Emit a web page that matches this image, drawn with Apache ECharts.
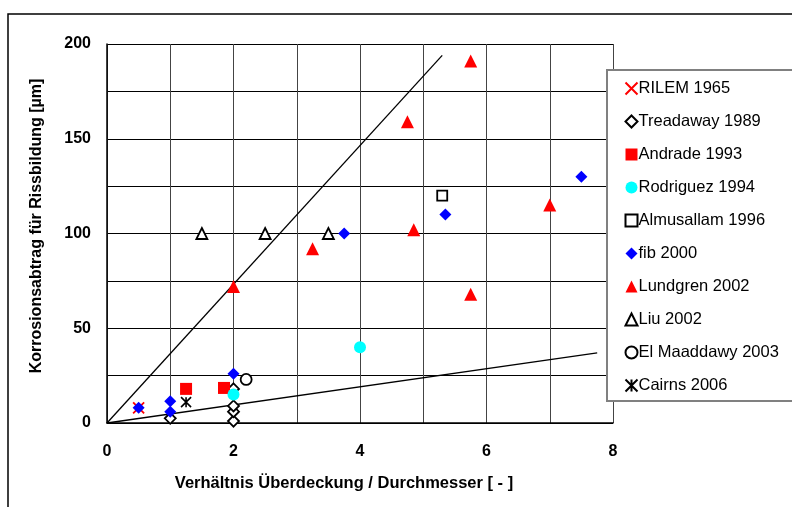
<!DOCTYPE html>
<html><head><meta charset="utf-8">
<script src="https://cdn.jsdelivr.net/npm/echarts@6/dist/echarts.min.js"></script>
<style>html,body{margin:0;padding:0;background:#fff}#c{width:792px;height:507px}</style>
</head><body><div id="c"></div>
<script>
const rilem = [[0.5, 8]];
const treadaway = [[1, 2.5], [2, 1], [2, 6], [2, 9], [2, 18]];
const andrade = [[1.25, 18], [1.85, 18.5]];
const rodriguez = [[2, 15], [4, 40]];
const almusallam = [[5.3, 120]];
const fib = [[0.5, 8], [1, 6], [1, 11.5], [2, 26], [3.75, 100], [5.35, 110], [7.5, 130]];
const lundgren = [[2, 72], [3.25, 92], [4.75, 159], [5.75, 191], [4.85, 102], [5.75, 68], [7, 115]];
const liu = [[1.5, 100], [2.5, 100], [3.5, 100]];
const elMaaddawy = [[2.2, 23]];
const cairns = [[1.25, 11]];
const upperLine = [[0, 0], [5.3, 194]];
const lowerLine = [[0, 0], [7.75, 37]];
const xTicks = [0, 2, 4, 6, 8];
const yTicks = [0, 50, 100, 150, 200];

const chart = echarts.init(document.getElementById('c'));
const font = 'Liberation Sans, Arial, sans-serif';
function sc(name, data, symbol, size, color, border, bw) {
  return {
    name, type: 'scatter', data, symbol, symbolSize: size,
    itemStyle: { color, borderColor: border || color, borderWidth: bw || 0, opacity: 1 },
    emphasis: { disabled: true }, z: 3
  };
}
const xPath = 'path://M0,0L10,10M10,0L0,10';
const starPath = 'path://M0,0L10,10M10,0L0,10M5,0L5,10';
chart.setOption({
  animation: false,
  backgroundColor: '#fff',
  grid: { left: 107, top: 44, right: 179, bottom: 84 },
  xAxis: {
    type: 'value', min: 0, max: 8, interval: 1,
    axisLine: { lineStyle: { color: '#000', width: 1.5 } },
    axisTick: { show: false },
    splitLine: { show: true, lineStyle: { color: '#444', width: 1 } },
    axisLabel: {
      margin: 21, color: '#000', fontFamily: font, fontWeight: 'bold', fontSize: 16,
      formatter: v => xTicks.includes(v) ? String(v) : ''
    }
  },
  yAxis: {
    type: 'value', min: 0, max: 200, interval: 25,
    axisLine: { show: true, lineStyle: { color: '#000', width: 1.5 } },
    axisTick: { show: false },
    splitLine: { show: true, lineStyle: { color: '#000', width: 1 } },
    axisLabel: {
      margin: 16, color: '#000', fontFamily: font, fontWeight: 'bold', fontSize: 16,
      formatter: v => yTicks.includes(v) ? String(v) : ''
    }
  },
  legend: {
    orient: 'vertical', left: 607, top: 70, width: 190,
    padding: [10, 100, 7, 16],
    backgroundColor: '#fff', borderColor: '#808080', borderWidth: 2, borderRadius: 0,
    itemWidth: 12, itemHeight: 12, itemGap: 16,
    textStyle: { fontFamily: font, fontSize: 16.5, color: '#000', padding: [0, 0, 0, -4] },
    data: ['RILEM 1965', 'Treadaway 1989', 'Andrade 1993', 'Rodriguez 1994', 'Almusallam 1996',
      'fib 2000', 'Lundgren 2002', 'Liu 2002', 'El Maaddawy 2003', 'Cairns 2006']
  },
  graphic: [
    { type: 'rect', shape: { x: 8, y: 14, width: 790, height: 500 },
      style: { fill: 'none', stroke: '#000', lineWidth: 1.5 }, z: 100, silent: true },
    { type: 'text', x: 37, y: 226, rotation: Math.PI / 2,
      style: { text: 'Korrosionsabtrag für Rissbildung [µm]', font: 'bold 16px ' + font,
        fill: '#000', align: 'center', verticalAlign: 'middle' } },
    { type: 'text', x: 344, y: 483,
      style: { text: 'Verhältnis Überdeckung / Durchmesser [ - ]', font: 'bold 16.5px ' + font,
        fill: '#000', align: 'center', verticalAlign: 'middle' } }
  ],
  series: [
    { type: 'line', data: upperLine, symbol: 'none', lineStyle: { color: '#000', width: 1.3 }, z: 2, silent: true },
    { type: 'line', data: lowerLine, symbol: 'none', lineStyle: { color: '#000', width: 1.3 }, z: 2, silent: true },
    sc('RILEM 1965', rilem, xPath, 11, 'none', '#ff0000', 1.8),
    sc('Treadaway 1989', treadaway, 'diamond', 11, '#fff', '#000', 1.8),
    sc('Andrade 1993', andrade, 'rect', 12, '#ff0000'),
    sc('Rodriguez 1994', rodriguez, 'circle', 12, '#00ffff'),
    sc('Almusallam 1996', almusallam, 'rect', 10, '#fff', '#000', 1.8),
    sc('fib 2000', fib, 'diamond', 12, '#0000ff'),
    sc('Lundgren 2002', lundgren, 'triangle', 13, '#ff0000'),
    sc('Liu 2002', liu, 'triangle', 11, '#fff', '#000', 1.8),
    sc('El Maaddawy 2003', elMaaddawy, 'circle', 11, '#fff', '#000', 1.8),
    sc('Cairns 2006', cairns, starPath, 10, 'none', '#000', 1.6)
  ]
});
</script></body></html>
